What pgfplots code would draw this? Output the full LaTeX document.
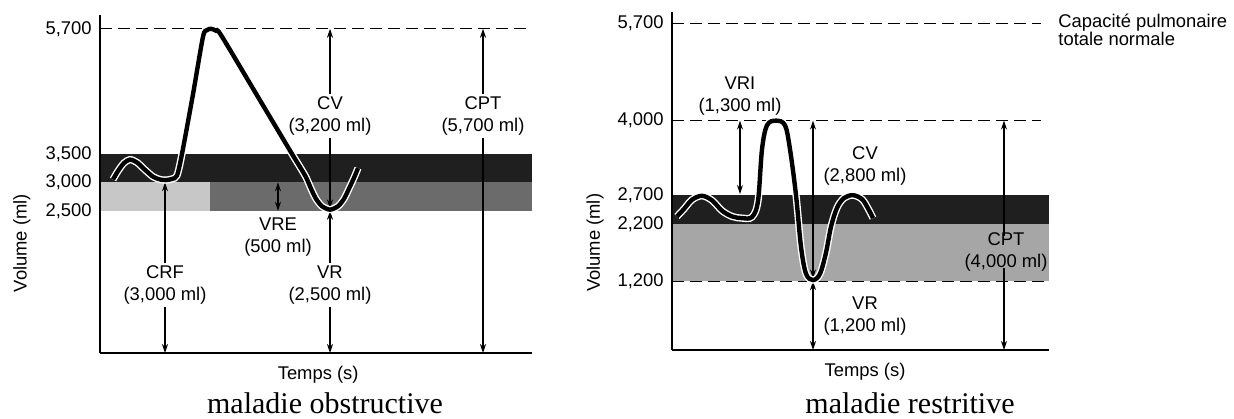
\documentclass[border=0pt]{standalone}
\usepackage{fontspec}
\setmainfont{Liberation Serif}
\setsansfont{Liberation Sans}
\newfontfamily\lsans{Liberation Sans}
\usepackage{pgfplots}
\pgfplotsset{compat=1.18}
\usetikzlibrary{arrows.meta}
\newcommand\lab{\lsans\fontsize{9.2}{11}\selectfont}
\tikzset{
  arr/.style={line width=0.6pt, {Stealth[length=4.5pt,width=3pt]}-{Stealth[length=4.5pt,width=3pt]}},
  sarr/.style={line width=0.6pt, -{Stealth[length=4.5pt,width=3pt]}},
  lbl/.style={font=\lab, align=center, inner sep=1.5pt},
}
\pgfplotsset{
  lung/.style={
    scale only axis, height=169pt,
    axis x line*=bottom, axis y line*=left,
    axis line style={line width=1pt,-},
    xtick=\empty, major tick length=0pt,
    ymin=0, xmin=0,
    yticklabel style={font=\lab, inner sep=0pt, xshift=-4pt},
    xlabel={Temps (s)}, ylabel={Volume (ml)},
    xlabel style={font=\lab, anchor=center},
    ylabel style={font=\lab, anchor=center},
    clip=false, axis on top,
  },
}
\begin{document}
\begin{tikzpicture}
\path[use as bounding box] (0,0) rectangle (617pt,-209pt);
% ---------------- left: maladie obstructive
\begin{axis}[lung, at={(50pt,-176.5pt)}, anchor=south west,
  width=216pt, xmax=432, ymax=5942,
  ytick={2500,3000,3500,5700},
  yticklabels={{2,500},{3,000},{3,500},{5,700}},
  xlabel style={at={(axis description cs:0.505,-0.065)}},
  ylabel style={at={(axis description cs:-0.181,0.325)}},
]
\addplot[draw=none, fill=black!88] coordinates {(0,3000) (432,3000) (432,3500) (0,3500)} -- cycle;
\addplot[draw=none, fill=black!22] coordinates {(0,2500) (110,2500) (110,3000) (0,3000)} -- cycle;
\addplot[draw=none, fill=black!58] coordinates {(110,2500) (432,2500) (432,3000) (110,3000)} -- cycle;
\addplot[line width=0.6pt, dash pattern=on 6pt off 3pt] coordinates {(0,5700) (428,5700)};
\draw[arr] (axis cs:65,3000) -- (axis cs:65,0);
\draw[arr] (axis cs:178,3000) -- (axis cs:178,2500);
\draw[arr] (axis cs:230,5700) -- (axis cs:230,2540);
\draw[arr] (axis cs:230,2500) -- (axis cs:230,0);
\draw[arr] (axis cs:383,5700) -- (axis cs:383,0);
\addplot[white, line width=3.6pt, smooth, tension=0.45] coordinates {
(13,3050) (18,3200) (24,3340) (30,3400) (37,3350) (45,3220) (53,3100) (60,3050) (66,3040) (72,3060) (77,3120) (82,3500) (93,4550) (103,5560) (107,5675) (111,5700) (116,5665) (121,5590) (156,4560) (192,3500) (200,3270) (206,3090) (211,2890) (216,2710) (222,2580) (230,2520) (238,2580) (244,2710) (249,2890) (254,3080) (258,3250)};
\addplot[black, line width=2.2pt, smooth, tension=0.45] coordinates {
(13,3050) (18,3200) (24,3340) (30,3400) (37,3350) (45,3220) (53,3100) (60,3050) (66,3040) (72,3060) (77,3120) (82,3500) (93,4550) (103,5560) (107,5675) (111,5700) (116,5665) (121,5590) (156,4560) (192,3500) (200,3270) (206,3090) (211,2890) (216,2710) (222,2580) (230,2520) (238,2580) (244,2710) (249,2890) (254,3080) (258,3250)};
\node[lbl, fill=white] at (axis cs:65,1195) {CRF\\(3,000 ml)};
\node[lbl] at (axis cs:178,2040) {VRE\\(500 ml)};
\node[lbl, fill=white] at (axis cs:230,4166) {CV\\(3,200 ml)};
\node[lbl, fill=white] at (axis cs:230,1195) {VR\\(2,500 ml)};
\node[lbl, fill=white] at (axis cs:383,4166) {CPT\\(5,700 ml)};
\end{axis}
% ---------------- right: maladie restritive
\begin{axis}[lung, at={(336pt,-175pt)}, anchor=south west,
  width=188.5pt, xmax=377, ymax=5895,
  ytick={1200,2200,2700,4000,5700},
  yticklabels={{1,200},{2,200},{2,700},{4,000},{5,700}},
  xlabel style={at={(axis description cs:0.512,-0.065)}},
  ylabel style={at={(axis description cs:-0.204,0.317)}},
]
\addplot[draw=none, fill=black!88] coordinates {(0,2200) (377,2200) (377,2700) (0,2700)} -- cycle;
\addplot[draw=none, fill=black!35] coordinates {(0,1200) (377,1200) (377,2200) (0,2200)} -- cycle;
\addplot[line width=0.6pt, dash pattern=on 6pt off 3pt] coordinates {(0,5700) (369,5700)};
\addplot[line width=0.6pt, dash pattern=on 6pt off 3pt] coordinates {(0,4000) (369,4000)};
\addplot[line width=0.6pt, dash pattern=on 6pt off 3pt] coordinates {(0,1200) (377,1200)};
\draw[arr] (axis cs:68,4000) -- (axis cs:68,2720);
\draw[arr] (axis cs:141,4000) -- (axis cs:141,1250);
\draw[arr] (axis cs:141,1200) -- (axis cs:141,0);
\draw[sarr] (axis cs:332,1980) -- (axis cs:332,4000);
\draw[sarr] (axis cs:332,1430) -- (axis cs:332,0);
\addplot[white, line width=3.6pt, smooth, tension=0.55] coordinates {
(5,2330) (12,2460) (20,2620) (30,2690) (40,2610) (50,2430) (60,2330) (70,2300) (80,2320) (86,2600) (90,3500) (95,3920) (104,4000) (113,3920) (118,3500) (124,2700) (129,1800) (134,1330) (141,1220) (148,1330) (154,1700) (159,2150) (165,2480) (172,2650) (181,2700) (190,2630) (196,2470) (201,2300)};
\addplot[black, line width=2.2pt, smooth, tension=0.55] coordinates {
(5,2330) (12,2460) (20,2620) (30,2690) (40,2610) (50,2430) (60,2330) (70,2300) (80,2320) (86,2600) (90,3500) (95,3920) (104,4000) (113,3920) (118,3500) (124,2700) (129,1800) (134,1330) (141,1220) (148,1330) (154,1700) (159,2150) (165,2480) (172,2650) (181,2700) (190,2630) (196,2470) (201,2300)};
\node[lbl] at (axis cs:68,4430) {VRI\\(1,300 ml)};
\node[lbl] at (axis cs:193,3209) {CV\\(2,800 ml)};
\node[lbl] at (axis cs:193,593) {VR\\(1,200 ml)};
\node[lbl] at (axis cs:334,1709) {CPT\\(4,000 ml)};
\end{axis}
\node[anchor=north west, align=left, font=\lsans\fontsize{9.2}{8.8}\selectfont, inner sep=0pt] at (529pt,-7pt) {Capacité pulmonaire\\totale normale};
\node[anchor=base, font=\fontsize{15}{18}\selectfont, inner sep=0pt] at (162.5pt,-206.5pt) {maladie obstructive};
\node[anchor=base, font=\fontsize{15}{18}\selectfont, inner sep=0pt] at (455pt,-206.5pt) {maladie restritive};
\end{tikzpicture}
\end{document}
